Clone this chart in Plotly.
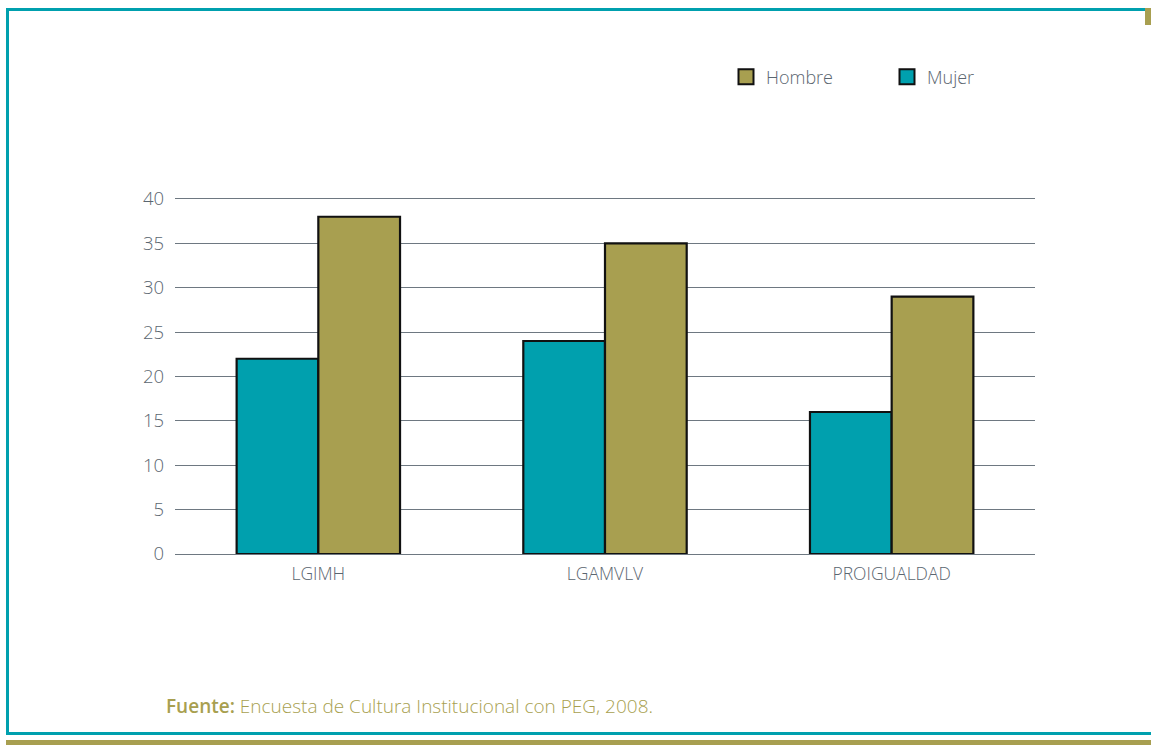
import plotly.graph_objects as go

categories = ["LGIMH", "LGAMVLV", "PROIGUALDAD"]
mujer = [22, 24, 16]
hombre = [38, 35, 29]
y_ticks = [0, 5, 10, 15, 20, 25, 30, 35, 40]

TEAL = "#00A0AE"
OLIVE = "#A89F50"
TXT = "#5B6670"
GRID = "#6E7881"
FONT = "Open Sans"

W, H = 1151, 745
L, R, T, B = 175, 116, 195, 191
pw, ph = W - L - R, H - T - B


def px(x):
    return (x - L) / pw


def py(y):
    return (H - B - y) / ph


fig = go.Figure()
fig.add_trace(go.Bar(name="Mujer", x=categories, y=mujer, showlegend=False,
                     marker=dict(color=TEAL, line=dict(color="#111", width=2.2))))
fig.add_trace(go.Bar(name="Hombre", x=categories, y=hombre, showlegend=False,
                     marker=dict(color=OLIVE, line=dict(color="#111", width=2.2))))
# legend entries (larger square swatches)
for name, col in [("Hombre", OLIVE), ("Mujer", TEAL)]:
    fig.add_trace(go.Scatter(name=name, x=[None], y=[None], mode="markers",
                             marker=dict(symbol="square", size=15, color=col, line=dict(color="#111", width=2))))

shapes = [
    dict(type="line", xref="paper", yref="paper", x0=px(7.5), x1=px(7.5), y0=py(9.5), y1=py(733.5), line=dict(color=TEAL, width=3)),
    dict(type="line", xref="paper", yref="paper", x0=px(6), x1=px(1145), y0=py(9.5), y1=py(9.5), line=dict(color=TEAL, width=3)),
    dict(type="line", xref="paper", yref="paper", x0=px(6), x1=px(1151), y0=py(733.5), y1=py(733.5), line=dict(color=TEAL, width=3)),
    dict(type="rect", xref="paper", yref="paper", x0=px(1145), x1=px(1152), y0=py(8), y1=py(25), fillcolor=OLIVE, line=dict(width=0)),
    dict(type="rect", xref="paper", yref="paper", x0=px(6), x1=px(1152), y0=py(740), y1=py(746), fillcolor=OLIVE, line=dict(width=0)),
]

fig.update_layout(
    width=W, height=H,
    margin=dict(l=L, r=R, t=T, b=B, autoexpand=False),
    paper_bgcolor="white", plot_bgcolor="white",
    barmode="group", bargap=0.43, bargroupgap=0,
    font=dict(family=FONT, color=TXT, size=16, weight=300),
    showlegend=True,
    legend=dict(orientation="h", xref="container", yref="container", x=726 / W, y=(H - 77) / H,
                xanchor="left", yanchor="middle", font=dict(size=18, color=TXT),
                entrywidth=116, entrywidthmode="pixels", bgcolor="rgba(0,0,0,0)"),
    xaxis=dict(showgrid=False, showline=False, zeroline=False, ticks="", tickfont=dict(size=17.5, color=TXT),
               ticklabelstandoff=7),
    yaxis=dict(range=[0, 40.45], tickvals=y_ticks, showgrid=True, gridcolor=GRID, gridwidth=1.3,
               zeroline=True, zerolinecolor=GRID, zerolinewidth=1.3, showline=False, ticks="",
               tickfont=dict(size=18.5, color=TXT), ticklabelstandoff=10),
    shapes=shapes,
    annotations=[dict(xref="paper", yref="paper", x=px(164), y=py(706), xanchor="left", yanchor="middle",
                      showarrow=False,
                      text="<span style='font-weight:600'>Fuente:</span> Encuesta de Cultura Institucional con PEG, 2008.",
                      font=dict(size=19, color=OLIVE, family=FONT))],
)

fig.write_html("out.html", config={"displayModeBar": False},
               post_script="document.body.style.margin='0';")
